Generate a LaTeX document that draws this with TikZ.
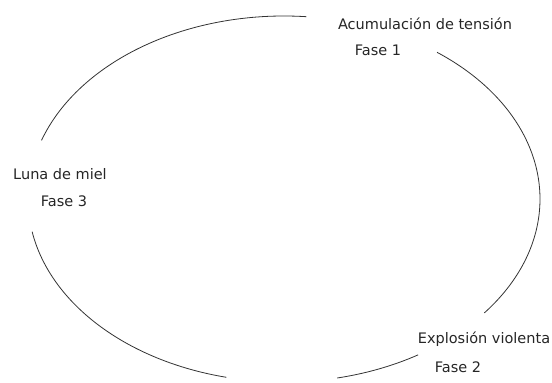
\documentclass[tikz,border=0pt]{standalone}
\usepackage{fontspec}
\setmainfont{DejaVu Sans}
\begin{document}
\begin{tikzpicture}[x=1pt,y=1pt,
  lbl/.style={inner sep=0pt, font=\fontsize{14.5}{16}\selectfont, text=black!85},
  cyc/.style={draw=black!80, line width=0.8pt}]
\useasboundingbox (0,0) rectangle (552,383);
\coordinate (c) at (284,184);
\node[lbl] (acum) at (425,359) {Acumulación de tensión};
\node[lbl] (f1) at (378,333) {Fase 1};
\node[lbl] (luna) at (60,209) {Luna de miel};
\node[lbl] (f3) at (64,182) {Fase 3};
\node[lbl] (expl) at (484,44) {Explosión violenta};
\node[lbl] (f2) at (458,16) {Fase 2};
% top arc (Luna -> Acumulacion)
\draw[cyc] (c) ++(161.3:256pt and 183pt) arc[start angle=161.3, end angle=85, x radius=256pt, y radius=183pt];
% right arc (Fase 1 -> Explosion)
\draw[cyc] (c) ++(53.3:256pt and 183pt) arc[start angle=53.3, end angle=-38.5, x radius=256pt, y radius=183pt];
% bottom right short arc
\draw[cyc] (c) ++(-58.4:256pt and 183pt) arc[start angle=-58.4, end angle=-78, x radius=256pt, y radius=183pt];
% bottom left arc
\draw[cyc] (c) ++(-103:256pt and 183pt) arc[start angle=-103, end angle=-169.7, x radius=256pt, y radius=183pt];
\end{tikzpicture}
\end{document}
